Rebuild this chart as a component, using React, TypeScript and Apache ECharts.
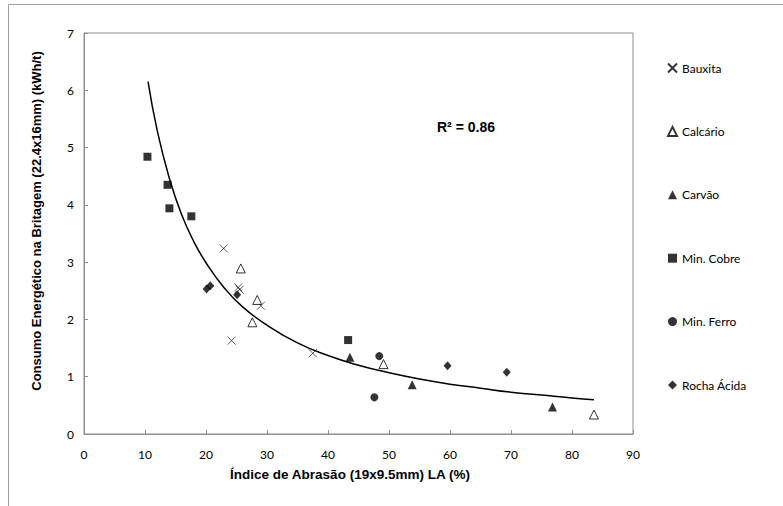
import React, { useEffect, useRef } from "react";
import * as echarts from "echarts";

const bauxita: number[][] = [[22.9, 3.24], [25.3, 2.56], [25.5, 2.52], [29.0, 2.24], [24.2, 1.63], [37.5, 1.41]];
const calcario: number[][] = [[25.7, 2.89], [28.4, 2.34], [27.6, 1.95], [49.1, 1.22], [83.6, 0.34]];
const carvao: number[][] = [[43.6, 1.34], [53.8, 0.86], [76.8, 0.47]];
const minCobre: number[][] = [[10.4, 4.84], [13.7, 4.35], [14.0, 3.94], [17.6, 3.8], [43.3, 1.64]];
const minFerro: number[][] = [[48.4, 1.36], [47.6, 0.64]];
const rochaAcida: number[][] = [[20.1, 2.53], [20.7, 2.59], [25.1, 2.43], [59.6, 1.19], [69.3, 1.08]];

const trendX: number[] = [10.5, 12, 14, 16, 18, 20, 23, 26, 30, 35, 40, 45, 50, 55, 60, 65, 70, 75, 80, 83.6];
const trendY: number[] = [6.15, 5.3, 4.46, 3.83, 3.36, 2.99, 2.55, 2.22, 1.9, 1.59, 1.37, 1.2, 1.07, 0.96, 0.87, 0.8, 0.73, 0.68, 0.63, 0.6];

const seriesNames: string[] = ["Bauxita", "Calcário", "Carvão", "Min. Cobre", "Min. Ferro", "Rocha Ácida"];
const xTitle = "Índice de Abrasão (19x9.5mm) LA (%)";
const yTitle = "Consumo Energético na Britagem (22.4x16mm) (kWh/t)";
const r2Label = "R² = 0.86";

const CROSS = "path://M0,0L10,10M10,0L0,10";

export default function App() {
  const ref = useRef<HTMLDivElement>(null);
  useEffect(() => {
    if (!ref.current) return;
    const chart = echarts.init(ref.current, null, { renderer: "svg" });
    const gray = "#8f8f8f";
    const tickFont = { fontFamily: "Lato", fontSize: 12, color: "#000" };
    const black = "#000";
    const option: any = {
      animation: false,
      backgroundColor: "#fff",
      grid: { left: 84, right: 150, top: 33, bottom: 72, show: true, borderColor: gray, borderWidth: 1 },
      xAxis: {
        type: "value", min: 0, max: 90, interval: 10,
        axisLine: { show: true, lineStyle: { color: gray } },
        axisTick: { show: true, inside: true, length: 4, lineStyle: { color: gray } },
        axisLabel: { ...tickFont, margin: 14 },
        splitLine: { show: false },
      },
      yAxis: {
        type: "value", min: 0, max: 7, interval: 1,
        axisLine: { show: true, lineStyle: { color: gray } },
        axisTick: { show: true, inside: true, length: 4, lineStyle: { color: gray } },
        axisLabel: { ...tickFont, margin: 10 },
        splitLine: { show: false },
      },
      legend: {
        orient: "vertical", left: 667, top: 62, padding: 0,
        itemWidth: 9, itemHeight: 9, itemGap: 51.4,
        data: seriesNames,
        textStyle: { fontFamily: "Lato", fontSize: 12, color: "#000" },
      },
      graphic: [
        { type: "rect", shape: { x: 8.5, y: 4.5, width: 900, height: 700 }, style: { fill: "none", stroke: "#a0a0a0", lineWidth: 1 }, silent: true },
        { type: "text", x: 437, y: 127, style: { text: r2Label, font: "bold 14px 'Liberation Sans'", fill: "#000", verticalAlign: "middle", align: "left" } },
        { type: "text", x: 350, y: 474, style: { text: xTitle, font: "bold 13.5px 'Liberation Sans'", fill: "#000", verticalAlign: "middle", align: "center" } },
        { type: "text", x: 36, y: 221, rotation: Math.PI / 2, style: { text: yTitle, font: "bold 13px 'Liberation Sans'", fill: "#000", verticalAlign: "middle", align: "center" } },
      ],
      series: [
        { name: "Bauxita", type: "scatter", data: bauxita, symbol: CROSS, symbolSize: 8, itemStyle: { color: "rgba(0,0,0,0)", borderColor: black, borderWidth: 0.8 } },
        { name: "Calcário", type: "scatter", data: calcario, symbol: "triangle", symbolSize: 9, itemStyle: { color: "#fff", borderColor: black, borderWidth: 1 } },
        { name: "Carvão", type: "scatter", data: carvao, symbol: "triangle", symbolSize: 9, itemStyle: { color: black } },
        { name: "Min. Cobre", type: "scatter", data: minCobre, symbol: "rect", symbolSize: 8, itemStyle: { color: black } },
        { name: "Min. Ferro", type: "scatter", data: minFerro, symbol: "circle", symbolSize: 8, itemStyle: { color: black } },
        { name: "Rocha Ácida", type: "scatter", data: rochaAcida, symbol: "diamond", symbolSize: [8, 9], itemStyle: { color: black } },
        {
          name: "Tendência", type: "line", data: trendX.map((x, i) => [x, trendY[i]]),
          smooth: true, showSymbol: false, symbol: "none",
          lineStyle: { color: black, width: 1.5 }, z: 1,
        },
      ],
    };
    chart.setOption(option);
    return () => chart.dispose();
  }, []);
  return <div ref={ref} style={{ position: "fixed", left: 0, top: 0, width: 783, height: 506 }} />;
}
